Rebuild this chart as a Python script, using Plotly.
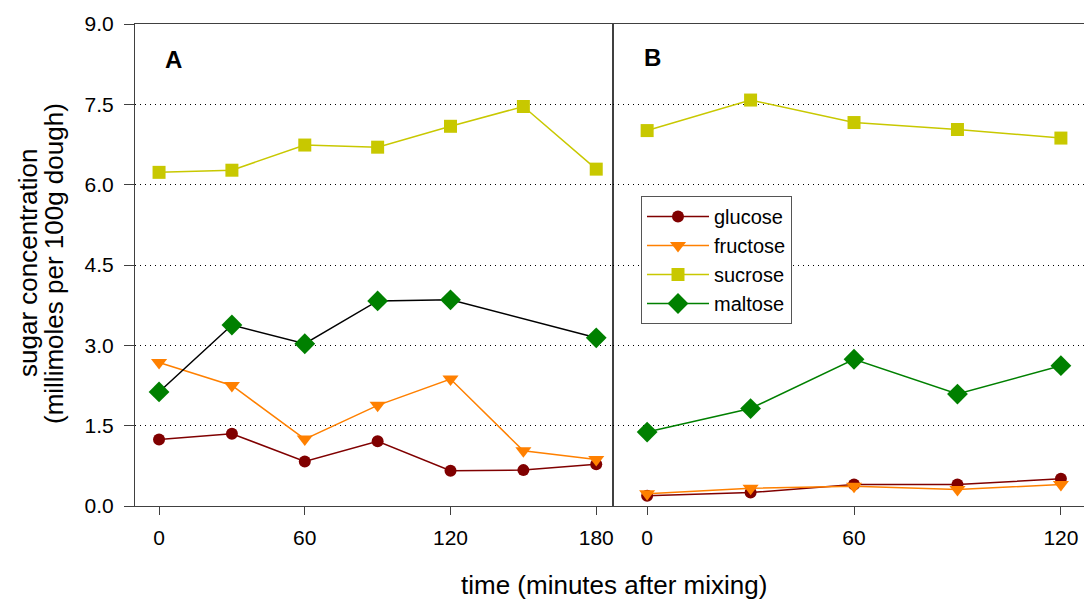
import plotly.graph_objects as go

# Sugar concentrations (millimoles per 100 g dough) over time after mixing
time_a = [0, 30, 60, 90, 120, 150, 180]
glucose_a = [1.24, 1.35, 0.83, 1.21, 0.66, 0.67, 0.78]
fructose_a = [2.68, 2.25, 1.25, 1.88, 2.37, 1.03, 0.87]
sucrose_a = [6.23, 6.27, 6.74, 6.70, 7.09, 7.46, 6.29]
time_a_maltose = [0, 30, 60, 90, 120, 180]
maltose_a = [2.13, 3.38, 3.03, 3.83, 3.85, 3.14]

time_b = [0, 30, 60, 90, 120]
glucose_b = [0.19, 0.25, 0.40, 0.40, 0.51]
fructose_b = [0.23, 0.33, 0.37, 0.31, 0.40]
sucrose_b = [7.01, 7.58, 7.16, 7.03, 6.87]
maltose_b = [1.38, 1.82, 2.74, 2.09, 2.62]

y_ticks = [0.0, 1.5, 3.0, 4.5, 6.0, 7.5, 9.0]
x_ticks_a = [0, 60, 120, 180]
x_ticks_b = [0, 60, 120]

FONT = "Liberation Sans, Arial, sans-serif"
C_GLU = "#800000"
C_FRU = "#FF8000"
C_SUC = "#C8C800"
C_MAL = "#008000"

series = [
    ("glucose", C_GLU, "circle", 12),
    ("fructose", C_FRU, "triangle-down", 14),
    ("sucrose", C_SUC, "square", 13),
    ("maltose", C_MAL, "diamond", 16),
]

data_a = {
    "glucose": (time_a, glucose_a),
    "fructose": (time_a, fructose_a),
    "sucrose": (time_a, sucrose_a),
    "maltose": (time_a_maltose, maltose_a),
}
data_b = {
    "glucose": (time_b, glucose_b),
    "fructose": (time_b, fructose_b),
    "sucrose": (time_b, sucrose_b),
    "maltose": (time_b, maltose_b),
}

fig = go.Figure()

# Panel A: maltose is joined with a black line
for name, col, sym, size in series:
    x, y = data_a[name]
    line_col = "#000000" if name == "maltose" else col
    fig.add_trace(go.Scatter(
        x=x, y=y, mode="lines+markers", name=name, showlegend=False,
        line=dict(color=line_col, width=1.5),
        marker=dict(color=col, symbol=sym, size=size, line=dict(width=0)),
        xaxis="x", yaxis="y",
    ))

# Panel B (these entries feed the legend)
for name, col, sym, size in series:
    x, y = data_b[name]
    fig.add_trace(go.Scatter(
        x=x, y=y, mode="lines+markers", name=name, showlegend=True,
        line=dict(color=col, width=1.5),
        marker=dict(color=col, symbol=sym, size=size, line=dict(width=0)),
        xaxis="x2", yaxis="y2",
    ))

split = (613 - 135) / 949
GRID_DASH = "1px,4px"

axis_common = dict(
    showline=True, linecolor="#404040", linewidth=1,
    ticks="outside", tickcolor="#404040", tickwidth=1,
    tickfont=dict(family=FONT, size=21, color="#000000"),
    zeroline=False,
)


def paper_x(px):
    return (px - 135) / 949


def paper_y(py):
    return (506 - py) / 482


fig.update_layout(
    width=1084, height=601,
    margin=dict(l=135, r=0, t=24, b=95),
    paper_bgcolor="white", plot_bgcolor="white",
    font=dict(family=FONT, color="#000000"),
    xaxis=dict(domain=[0, split], range=[-9.9, 186.9], tickvals=x_ticks_a,
               ticklen=8, ticklabelstandoff=5, showgrid=False, mirror=True,
               anchor="y", **axis_common),
    xaxis2=dict(domain=[split, 1], range=[-9.9, 126.7], tickvals=x_ticks_b,
                ticklen=8, ticklabelstandoff=5, showgrid=False, mirror=True,
                anchor="y2", **axis_common),
    yaxis=dict(domain=[0, 1], range=[0, 9], tickvals=y_ticks, tickformat=".1f",
               ticklen=10, ticklabelstandoff=6, showgrid=True, gridcolor="#000000",
               griddash=GRID_DASH, gridwidth=1, mirror=True, anchor="x",
               **axis_common),
    yaxis2=dict(domain=[0, 1], range=[0, 9], tickvals=y_ticks, showticklabels=False,
                ticks="", showgrid=True, gridcolor="#000000", griddash=GRID_DASH,
                gridwidth=1, anchor="x2", showline=True, linecolor="#404040",
                linewidth=1, zeroline=False),
    legend=dict(
        x=paper_x(641), y=paper_y(196), xanchor="left", yanchor="top",
        bgcolor="white", bordercolor="#555555", borderwidth=1,
        font=dict(family=FONT, size=20, color="#000000"),
        itemwidth=62, tracegroupgap=0,
    ),
    annotations=[
        dict(text="<b>A</b>", x=paper_x(173), y=paper_y(60),
             xref="paper", yref="paper", showarrow=False,
             xanchor="center", yanchor="middle",
             font=dict(family=FONT, size=24)),
        dict(text="<b>B</b>", x=paper_x(652), y=paper_y(58),
             xref="paper", yref="paper", showarrow=False,
             xanchor="center", yanchor="middle",
             font=dict(family=FONT, size=24)),
        dict(text="time (minutes after mixing)", x=paper_x(614), y=paper_y(585),
             xref="paper", yref="paper", showarrow=False,
             xanchor="center", yanchor="middle",
             font=dict(family=FONT, size=26)),
        dict(text="sugar concentration", x=paper_x(28), y=paper_y(263),
             textangle=-90, xref="paper", yref="paper", showarrow=False,
             xanchor="center", yanchor="middle",
             font=dict(family=FONT, size=26)),
        dict(text="(millimoles per 100g dough)", x=paper_x(54), y=paper_y(264),
             textangle=-90, xref="paper", yref="paper", showarrow=False,
             xanchor="center", yanchor="middle",
             font=dict(family=FONT, size=26)),
    ],
)

fig.write_html("out.html")
